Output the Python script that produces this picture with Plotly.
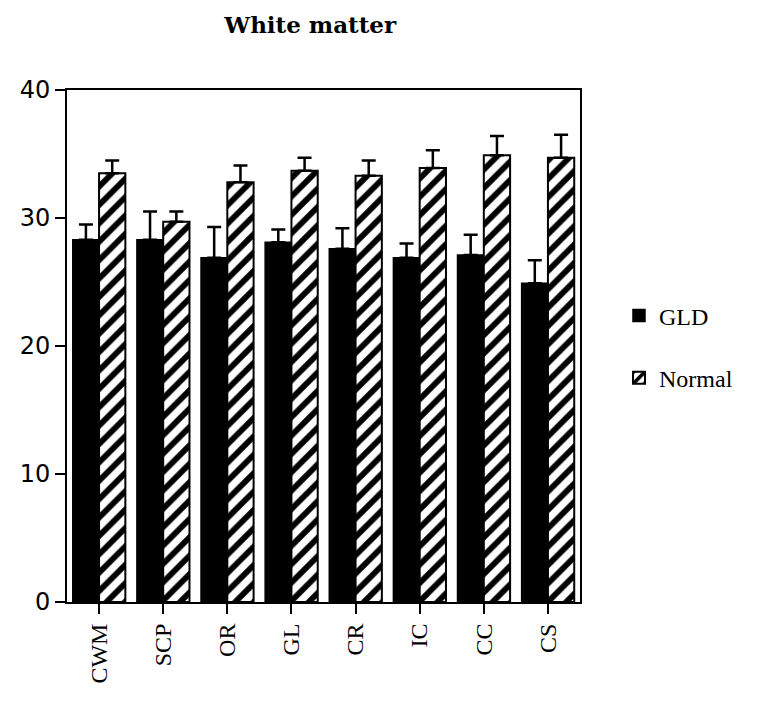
import plotly.graph_objects as go

categories = ["CWM", "SCP", "OR", "GL", "CR", "IC", "CC", "CS"]
gld_values = [28.3, 28.3, 26.9, 28.1, 27.6, 26.9, 27.1, 24.9]
gld_errors = [1.2, 2.2, 2.4, 1.0, 1.6, 1.1, 1.6, 1.8]
normal_values = [33.5, 29.7, 32.8, 33.7, 33.3, 33.9, 34.9, 34.7]
normal_errors = [1.0, 0.8, 1.3, 1.0, 1.2, 1.4, 1.5, 1.8]
y_ticks = [0, 10, 20, 30, 40]

fig = go.Figure()
fig.add_trace(go.Bar(
    x=categories, y=gld_values, name="GLD", legendgroup="a",
    marker=dict(color="black", line=dict(color="black", width=1.5)),
    error_y=dict(type="data", symmetric=False, array=gld_errors,
                 arrayminus=[0] * len(gld_errors), color="black",
                 thickness=2.5, width=7),
))
fig.add_trace(go.Bar(
    x=categories, y=normal_values, name="Normal", legendgroup="b",
    marker=dict(color="white", line=dict(color="black", width=2),
                pattern=dict(shape="/", fgcolor="black", bgcolor="white",
                             size=13, solidity=0.45, fillmode="replace")),
    error_y=dict(type="data", symmetric=False, array=normal_errors,
                 arrayminus=[0] * len(normal_errors), color="black",
                 thickness=2.5, width=7),
))

fig.update_layout(
    width=767, height=703,
    paper_bgcolor="white", plot_bgcolor="white",
    barmode="group", bargap=0.18, bargroupgap=0,
    margin=dict(l=57, r=195, t=82, b=109),
    title=dict(text="<b>White matter</b>", x=0.394, xanchor="center", y=0.976,
               yanchor="middle",
               font=dict(family="DejaVu Serif", size=23, color="black")),
    legend=dict(x=1.076, y=0.498, xanchor="left", yanchor="middle",
                font=dict(family="Liberation Serif", size=24, color="black"),
                tracegroupgap=28, bgcolor="rgba(0,0,0,0)"),
    showlegend=True,
)

fig.update_xaxes(
    showline=True, linecolor="black", linewidth=2, mirror=True,
    ticks="outside", ticklen=10, tickwidth=2, tickcolor="black",
    tickangle=-90, showgrid=False,
    tickfont=dict(family="Liberation Serif", size=24, color="black"),
)
fig.update_yaxes(
    range=[0, 40], tickvals=y_ticks,
    showline=True, linecolor="black", linewidth=2, mirror=True,
    ticks="outside", ticklen=10, tickwidth=2, tickcolor="black",
    showgrid=False, zeroline=False,
    tickfont=dict(family="DejaVu Sans", size=24, color="black"),
)

fig.write_html("out.html")
